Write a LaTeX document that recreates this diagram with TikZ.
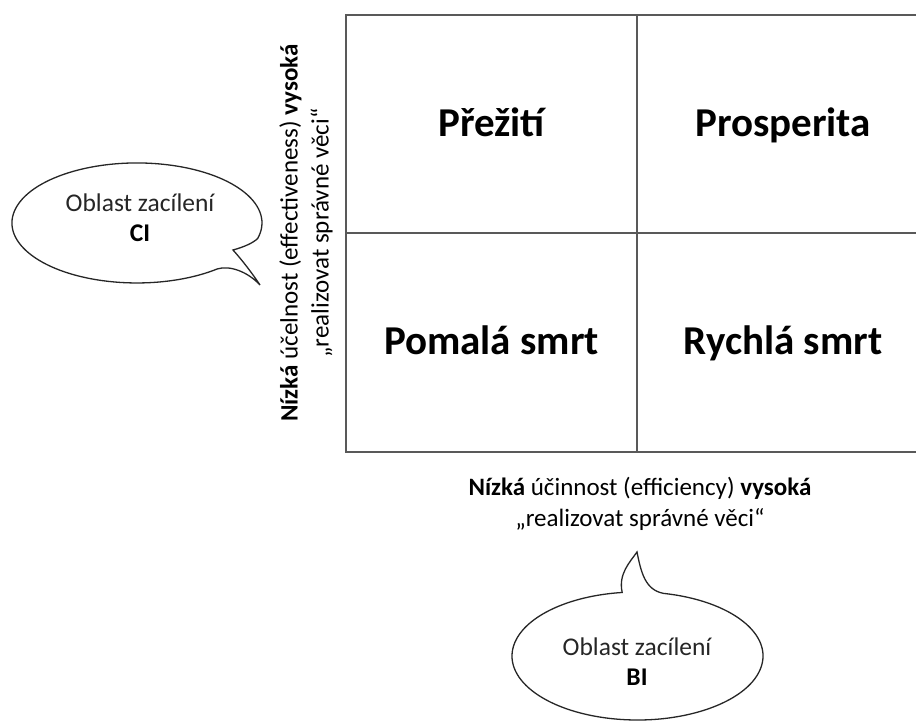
\documentclass[tikz,border=0pt]{standalone}
\usepackage{fontspec}
\setmainfont{Carlito}
\begin{document}
\begin{tikzpicture}[x=1pt,y=1pt,
  gridline/.style={draw=black!65, line width=1.4pt},
  quad/.style={font=\fontsize{41}{48}\selectfont\bfseries, inner sep=0pt, anchor=base},
  axislabel/.style={font=\fontsize{25}{31}\selectfont, align=center, inner sep=0pt},
  bubble/.style={draw=black!85, line width=1.3pt, fill=white},
  bubbletext/.style={font=\fontsize{25.5}{30}\selectfont, align=center, text=black!85, inner sep=0pt}]
\useasboundingbox (0,0) rectangle (916,722);
% grid
\coordinate (gtr) at (916,707);
\coordinate (gtl) at (346,707);
\coordinate (gbl) at (346,270);
\coordinate (gbr) at (916,270);
\coordinate (gmt) at (637,707);
\coordinate (gmb) at (637,270);
\coordinate (gml) at (346,489);
\coordinate (gmr) at (916,489);
\draw[gridline] (gtr) -- (gtl) -- (gbl) -- (gbr);
\draw[gridline] (gmt) -- (gmb);
\draw[gridline] (gml) -- (gmr);
% quadrant labels
\node[quad] (q1) at (491.5,585) {Přežití};
\node[quad] (q2) at (783,585) {Prosperita};
\node[quad] (q3) at (491.5,367) {Pomalá smrt};
\node[quad] (q4) at (783,367) {Rychlá smrt};
% axis labels
\node[axislabel, rotate=90] (ylab) at (306,489) {\textbf{Nízká} účelnost (effectiveness) \textbf{vysoká}\\„realizovat správné věci“};
\node[axislabel] (xlab) at (640,218) {\textbf{Nízká} účinnost (efficiency) \textbf{vysoká}\\„realizovat správné věci“};
% left bubble
\draw[bubble] (257.7,483.5) arc[start angle=-15, end angle=310, x radius=125, y radius=60]
  .. controls (230,457) and (248,450) .. (260,437)
  .. controls (252,449) and (242,462) .. (233,472)
  .. controls (244,475) and (253,479) .. cycle;
\node[bubbletext] (ci) at (140,504.5) {Oblast zacílení\\\textbf{\color{black}CI}};
% bottom bubble
\draw[bubble] (663.6,128.6) arc[start angle=78, end angle=-263, x radius=125.5, y radius=64]
  .. controls (618,148) and (630,160) .. (637,170)
  .. controls (641,150) and (645,132) .. cycle;
\node[bubbletext] (bi) at (637,60) {Oblast zacílení\\\textbf{\color{black}BI}};
\end{tikzpicture}
\end{document}
